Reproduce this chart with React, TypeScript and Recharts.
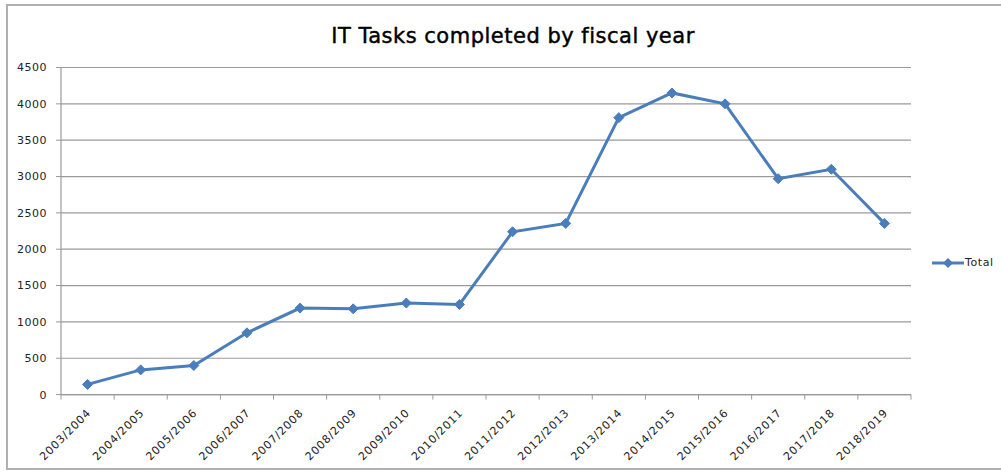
import { LineChart, Line, XAxis, YAxis, CartesianGrid } from "recharts";

const years = [
  "2003/2004",
  "2004/2005",
  "2005/2006",
  "2006/2007",
  "2007/2008",
  "2008/2009",
  "2009/2010",
  "2010/2011",
  "2011/2012",
  "2012/2013",
  "2013/2014",
  "2014/2015",
  "2015/2016",
  "2016/2017",
  "2017/2018",
  "2018/2019",
];

const totals = [
  140, 340, 400, 850, 1190, 1180, 1260, 1240, 2240, 2355, 3810, 4150, 4000,
  2970, 3100, 2355,
];

const yTicks = [0, 500, 1000, 1500, 2000, 2500, 3000, 3500, 4000, 4500];

const data = years.map((name, i) => ({ name, Total: totals[i] }));

const BLUE = "#4A7EBB";
const AXIS = "#9a9a9a";
const FONT = "'DejaVu Sans', sans-serif";
const HALF_BAND = 850 / years.length / 2;

function Diamond(props: any) {
  const { cx, cy } = props;
  if (cx == null || cy == null) return null;
  const r = 5;
  return (
    <polygon
      points={`${cx},${cy - r} ${cx + r},${cy} ${cx},${cy + r} ${cx - r},${cy}`}
      fill={BLUE}
      stroke={BLUE}
    />
  );
}

function YearTick(props: any) {
  const { x, y, payload, index } = props;
  const axisY = y - 8;
  const ax = x + 4;
  const ay = y + 11;
  return (
    <g>
      <line x1={x - HALF_BAND} y1={axisY} x2={x - HALF_BAND} y2={axisY + 5} stroke={AXIS} />
      {index === years.length - 1 && (
        <line x1={x + HALF_BAND} y1={axisY} x2={x + HALF_BAND} y2={axisY + 5} stroke={AXIS} />
      )}
      <text
        x={ax}
        y={ay}
        transform={`rotate(-45, ${ax}, ${ay})`}
        textAnchor="end"
        fontSize={11}
        letterSpacing={0.8}
        fontFamily={FONT}
        fill="#222"
      >
        {payload.value}
      </text>
    </g>
  );
}

function LegendBox() {
  return (
    <div
      style={{
        position: "absolute",
        left: 932,
        top: 256,
        display: "flex",
        alignItems: "center",
        fontFamily: FONT,
        fontSize: 11,
        color: "#222",
      }}
    >
      <svg width={33} height={12}>
        <line x1={0} y1={6} x2={32} y2={6} stroke={BLUE} strokeWidth={3} />
        <polygon points="16,1 21,6 16,11 11,6" fill={BLUE} />
      </svg>
      <span style={{ letterSpacing: 0.6 }}>Total</span>
    </div>
  );
}

export default function App() {
  return (
    <div style={{ position: "relative", width: 1001, height: 473, background: "#fff", overflow: "hidden" }}>
      <style>{"body{margin:0}"}</style>
      <div
        style={{
          position: "absolute",
          left: 6,
          top: 4,
          width: 1010,
          height: 466,
          border: "2px solid #b0b0b0",
          boxSizing: "border-box",
        }}
      />
      <LineChart
        width={1001}
        height={473}
        data={data}
        margin={{ top: 67.5, right: 90, bottom: 8.4, left: 0 }}
      >
        <text
          x={513}
          y={43}
          textAnchor="middle"
          fontSize={21}
          letterSpacing={0.5}
          fontFamily={FONT}
          fill="#000"
          stroke="#000"
          strokeWidth={0.45}
        >
          IT Tasks completed by fiscal year
        </text>
        <CartesianGrid vertical={false} stroke={AXIS} strokeWidth={1.2} />
        <XAxis
          dataKey="name"
          interval={0}
          height={70}
          padding={{ left: HALF_BAND, right: HALF_BAND }}
          axisLine={{ stroke: AXIS, strokeWidth: 1.2 }}
          tickLine={false}
          tick={<YearTick />}
        />
        <YAxis
          width={61}
          domain={[0, 4500]}
          ticks={yTicks}
          interval={0}
          tickSize={5}
          tickMargin={9}
          axisLine={{ stroke: AXIS, strokeWidth: 1.2 }}
          tickLine={{ stroke: AXIS }}
          tick={{ fontSize: 11, fontFamily: FONT, fill: "#222", letterSpacing: 0.5 }}
        />
        <Line
          type="linear"
          dataKey="Total"
          stroke={BLUE}
          strokeWidth={3}
          dot={<Diamond />}
          activeDot={false}
          isAnimationActive={false}
        />
      </LineChart>
      <LegendBox />
    </div>
  );
}
